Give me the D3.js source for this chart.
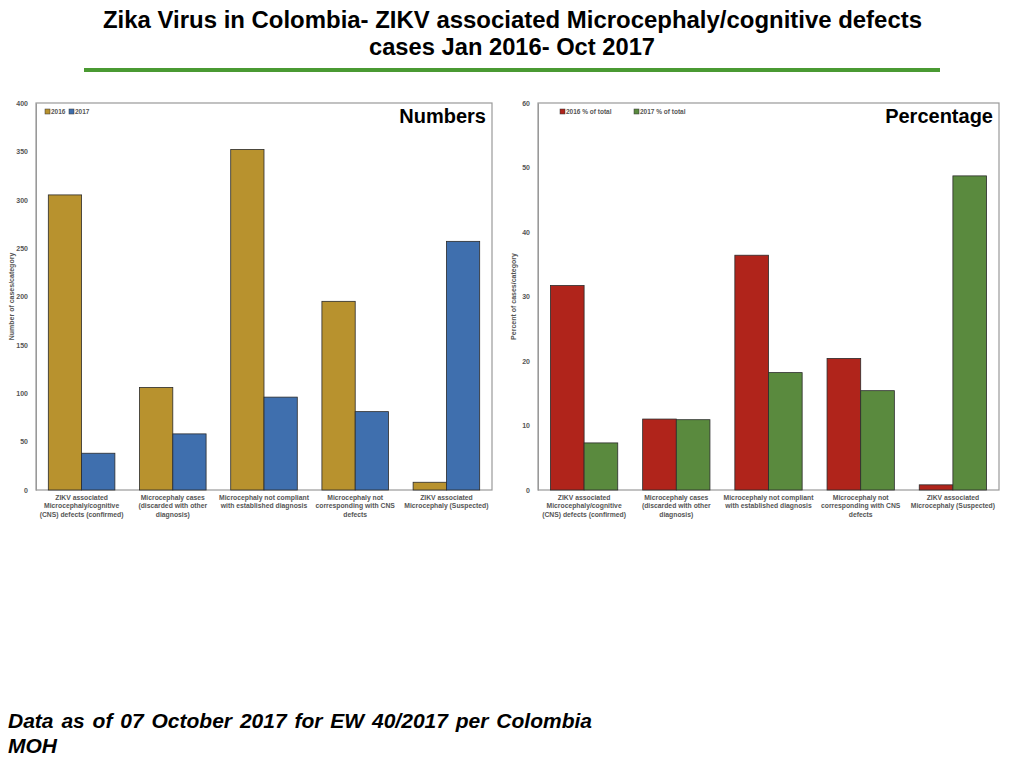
<!DOCTYPE html>
<html>
<head>
<meta charset="utf-8">
<script src="https://cdnjs.cloudflare.com/ajax/libs/d3/7.8.5/d3.min.js"></script>
<style>
  body { margin: 0; background: #fff; }
  #footer {
    position: absolute; left: 8px; top: 708px; width: 584px;
    font-family: "Liberation Sans", Arial, sans-serif;
    font-weight: bold; font-style: italic; font-size: 21px;
    line-height: 25px; text-align: justify; text-align-last: left;
    color: #000;
  }
</style>
</head>
<body>
<svg width="1024" height="768"></svg>
<div id="footer">Data as of 07 October 2017 for EW 40/2017 per Colombia MOH</div>
<script>
const categories = [
  ["ZIKV associated", "Microcephaly/cognitive", "(CNS) defects (confirmed)"],
  ["Microcephaly cases", "(discarded with other", "diagnosis)"],
  ["Microcephaly not compliant", "with established diagnosis"],
  ["Microcephaly not", "corresponding with CNS", "defects"],
  ["ZIKV associated", "Microcephaly (Suspected)"]
];
const counts2016 = [305, 106, 352, 195, 8];
const counts2017 = [38, 58, 96, 81, 257];
const pct2016 = [31.7, 11.0, 36.4, 20.4, 0.8];
const pct2017 = [7.3, 10.9, 18.2, 15.4, 48.7];
const countTicks = [0, 50, 100, 150, 200, 250, 300, 350, 400];
const pctTicks = [0, 10, 20, 30, 40, 50, 60];

const svg = d3.select("svg");
const font = "'Liberation Sans', Arial, sans-serif";

// title, squeezed to the reference width
const title = svg.append("g")
  .attr("font-family", font)
  .attr("font-weight", "bold")
  .attr("font-size", 23.5);
title.append("text").attr("x", 103).attr("y", 28)
  .attr("textLength", 819).attr("lengthAdjust", "spacingAndGlyphs")
  .text("Zika Virus in Colombia- ZIKV associated Microcephaly/cognitive defects");
title.append("text").attr("x", 369).attr("y", 55)
  .attr("textLength", 286).attr("lengthAdjust", "spacingAndGlyphs")
  .text("cases Jan 2016- Oct 2017");

svg.append("line")
  .attr("x1", 84).attr("x2", 940).attr("y1", 70).attr("y2", 70)
  .attr("stroke", "#4a9a32").attr("stroke-width", 4);

function drawChart(opts) {
  const { left, right, top, bottom, max, ticks, s1, s2, c1, c2, keys, yTitle, heading, legendX } = opts;
  const g = svg.append("g");

  const x0 = d3.scaleBand().domain(d3.range(categories.length)).range([left, right]).padding(0);
  const x1 = d3.scaleBand().domain([0, 1]).range([0, x0.bandwidth()]).paddingOuter(0.37).paddingInner(0);
  const y = d3.scaleLinear().domain([0, max]).range([bottom, top]);

  // frame
  g.append("rect")
    .attr("x", left).attr("y", top)
    .attr("width", right - left).attr("height", bottom - top)
    .attr("fill", "none").attr("stroke", "#999").attr("stroke-width", 1.2);

  // y axis
  const ya = g.append("g")
    .attr("transform", `translate(${left},0)`)
    .call(d3.axisLeft(y).tickValues(ticks).tickSize(0).tickPadding(8));
  ya.select(".domain").attr("stroke", "#999");
  ya.selectAll("text")
    .attr("font-family", font).attr("font-size", 7).attr("font-weight", "bold").attr("fill", "#555");

  g.append("text")
    .attr("transform", `translate(${left - 22},${(top + bottom) / 2}) rotate(-90)`)
    .attr("text-anchor", "middle")
    .attr("font-family", font).attr("font-size", 7).attr("font-weight", "bold").attr("fill", "#555")
    .text(yTitle);

  // bars
  const series = [s1, s2];
  const colors = [c1, c2];
  series.forEach((vals, si) => {
    g.selectAll(null).data(vals).enter().append("rect")
      .attr("x", (d, i) => x0(i) + x1(si))
      .attr("y", d => y(d))
      .attr("width", x1.bandwidth())
      .attr("height", d => bottom - y(d))
      .attr("fill", colors[si])
      .attr("stroke", "#2b2b2b").attr("stroke-width", 0.8);
  });

  // category labels
  categories.forEach((lines, i) => {
    const cx = x0(i) + x0.bandwidth() / 2;
    const t = g.append("text")
      .attr("x", cx)
      .attr("y", bottom + 10)
      .attr("text-anchor", "middle")
      .attr("font-family", font).attr("font-size", 6.8).attr("font-weight", "bold").attr("fill", "#555");
    lines.forEach((ln, j) => {
      t.append("tspan").attr("x", cx).attr("dy", j === 0 ? 0 : 8.3).text(ln);
    });
  });

  // legend
  keys.forEach((k, i) => {
    const lx = legendX[i];
    g.append("rect")
      .attr("x", lx).attr("y", top + 6).attr("width", 5).attr("height", 5)
      .attr("fill", colors[i]).attr("stroke", "#333").attr("stroke-width", 0.5);
    g.append("text")
      .attr("x", lx + 6).attr("y", top + 11)
      .attr("font-family", font).attr("font-size", 6.5).attr("font-weight", "bold").attr("fill", "#555")
      .text(k);
  });

  g.append("text")
    .attr("x", right - 6).attr("y", top + 20)
    .attr("text-anchor", "end")
    .attr("font-family", font).attr("font-size", 20).attr("font-weight", "bold")
    .text(heading);
}

drawChart({
  left: 36, right: 492, top: 103, bottom: 490, max: 400, ticks: countTicks,
  s1: counts2016, s2: counts2017, c1: "#b8922e", c2: "#3f6fae",
  keys: ["2016", "2017"], legendX: [45, 69],
  yTitle: "Number of cases/category", heading: "Numbers"
});

drawChart({
  left: 538, right: 999, top: 103, bottom: 490, max: 60, ticks: pctTicks,
  s1: pct2016, s2: pct2017, c1: "#b0241b", c2: "#5a8a3e",
  keys: ["2016 % of total", "2017 % of total"], legendX: [560, 634],
  yTitle: "Percent of cases/category", heading: "Percentage"
});
</script>
</body>
</html>
